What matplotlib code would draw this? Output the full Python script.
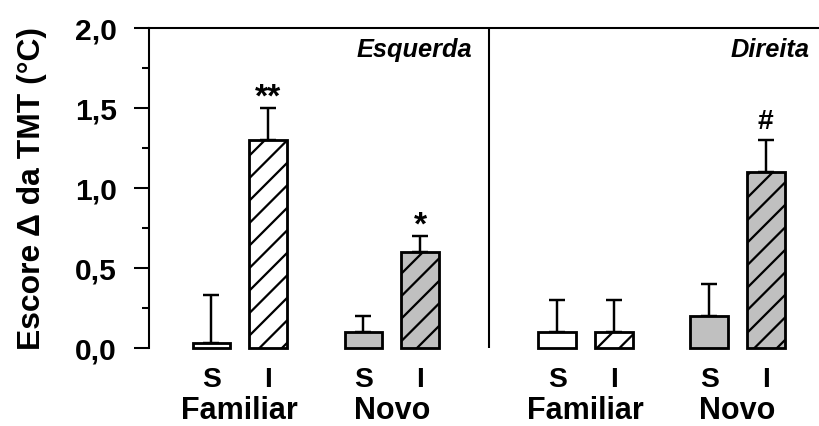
import matplotlib
matplotlib.use("Agg")
import matplotlib.pyplot as plt
import matplotlib.transforms as mtransforms
import numpy as np
from matplotlib.ticker import MultipleLocator, FuncFormatter

# values (score delta TMT, degC)
sides = ["Esquerda", "Direita"]
groups = ["Familiar", "Novo"]
conditions = ["S", "I"]
esquerda_means = [0.03, 1.30, 0.10, 0.60]
esquerda_err = [0.30, 0.20, 0.10, 0.10]
direita_means = [0.10, 0.10, 0.20, 1.10]
direita_err = [0.20, 0.20, 0.20, 0.20]
esquerda_marks = ["", "**", "", "*"]
direita_marks = ["", "", "", "#"]

plt.rcParams["font.family"] = ["Liberation Sans", "DejaVu Sans"]
plt.rcParams["font.weight"] = "bold"
plt.rcParams["hatch.linewidth"] = 1.2

DPI = 135
fig = plt.figure(figsize=(819 / DPI, 426 / DPI), dpi=DPI)
ax = fig.add_axes([149 / 819, 1 - 348 / 426, 670 / 819, 320 / 426])

# layout: bars 1 unit apart inside a pair, pairs spaced inside / across panels
pair_step = 2.69
panel_step = 3.43
first_pair = 1.606
pair_centers = np.array([first_pair,
                         first_pair + pair_step,
                         first_pair + pair_step + panel_step,
                         first_pair + 2 * pair_step + panel_step])
divider = (pair_centers[1] + pair_centers[2]) / 2
bar_w = 0.67

means = esquerda_means + direita_means
errs = esquerda_err + direita_err
marks = esquerda_marks + direita_marks
fills = ["white", "white", "#c0c0c0", "#c0c0c0"] * 2
hatches = ["", "//", "", "//"] * 2
xpos = np.array([[c - 0.5, c + 0.5] for c in pair_centers]).ravel()

ax.errorbar(xpos, means, yerr=[np.zeros(len(errs)), errs], fmt="none",
            ecolor="black", elinewidth=1.3, capsize=4.5, capthick=1.3, zorder=1)
for x, m, fc, h in zip(xpos, means, fills, hatches):
    ax.bar(x, m, width=bar_w, color=fc, edgecolor="black", linewidth=1.5,
           hatch=h, zorder=2, clip_on=False)

for x, m, e, mk in zip(xpos, means, errs, marks):
    if not mk:
        continue
    if mk == "#":
        off, fs = 6, 15
    else:
        off, fs = 1, 18
    ax.annotate(mk, xy=(x, m + e), xytext=(0, off), textcoords="offset points",
                ha="center", va="baseline", fontsize=fs, fontweight="bold")

ax.axvline(divider, ymin=0, ymax=1, color="black", linewidth=1.1)

ax.set_xlim(0, 670 / 56.5)
ax.set_ylim(0, 2.0)
ax.yaxis.set_major_locator(MultipleLocator(0.5))
ax.yaxis.set_minor_locator(MultipleLocator(0.25))
ax.yaxis.set_major_formatter(FuncFormatter(lambda v, p: f"{v:.1f}".replace(".", ",")))
ax.tick_params(axis="y", which="major", length=8, width=1.1, pad=9, labelsize=16)
ax.tick_params(axis="y", which="minor", length=4, width=1.1)
ax.set_xticks([])
for lab in ax.get_yticklabels():
    lab.set_fontweight("bold")

for side in ["right", "bottom"]:
    ax.spines[side].set_visible(False)
for side in ["left", "top"]:
    ax.spines[side].set_linewidth(1.1)

ax.set_ylabel("Escore \u0394 da TMT (\u00b0C)", fontsize=17, fontweight="bold")
ax.yaxis.set_label_coords(-0.152, 0.5)

trans = mtransforms.blended_transform_factory(ax.transData, ax.transAxes)
for i, c in enumerate(pair_centers):
    for j, cond in enumerate(conditions):
        ax.text(c - 0.5 + j, -0.1, cond, transform=trans, ha="center",
                va="center", fontsize=15, fontweight="bold")
    ax.text(c, -0.198, groups[i % 2], transform=trans, ha="center",
            va="center", fontsize=16.3, fontweight="bold")

ax.annotate(sides[0], xy=(divider, 0.93), xycoords=trans, xytext=(-9, 0),
            textcoords="offset points", ha="right", va="center",
            fontsize=13.5, fontweight="bold", style="italic")
ax.annotate(sides[1], xy=(1.0, 0.93), xycoords="axes fraction", xytext=(-5, 0),
            textcoords="offset points", ha="right", va="center",
            fontsize=13.5, fontweight="bold", style="italic")

fig.savefig("out.png", dpi=DPI)
